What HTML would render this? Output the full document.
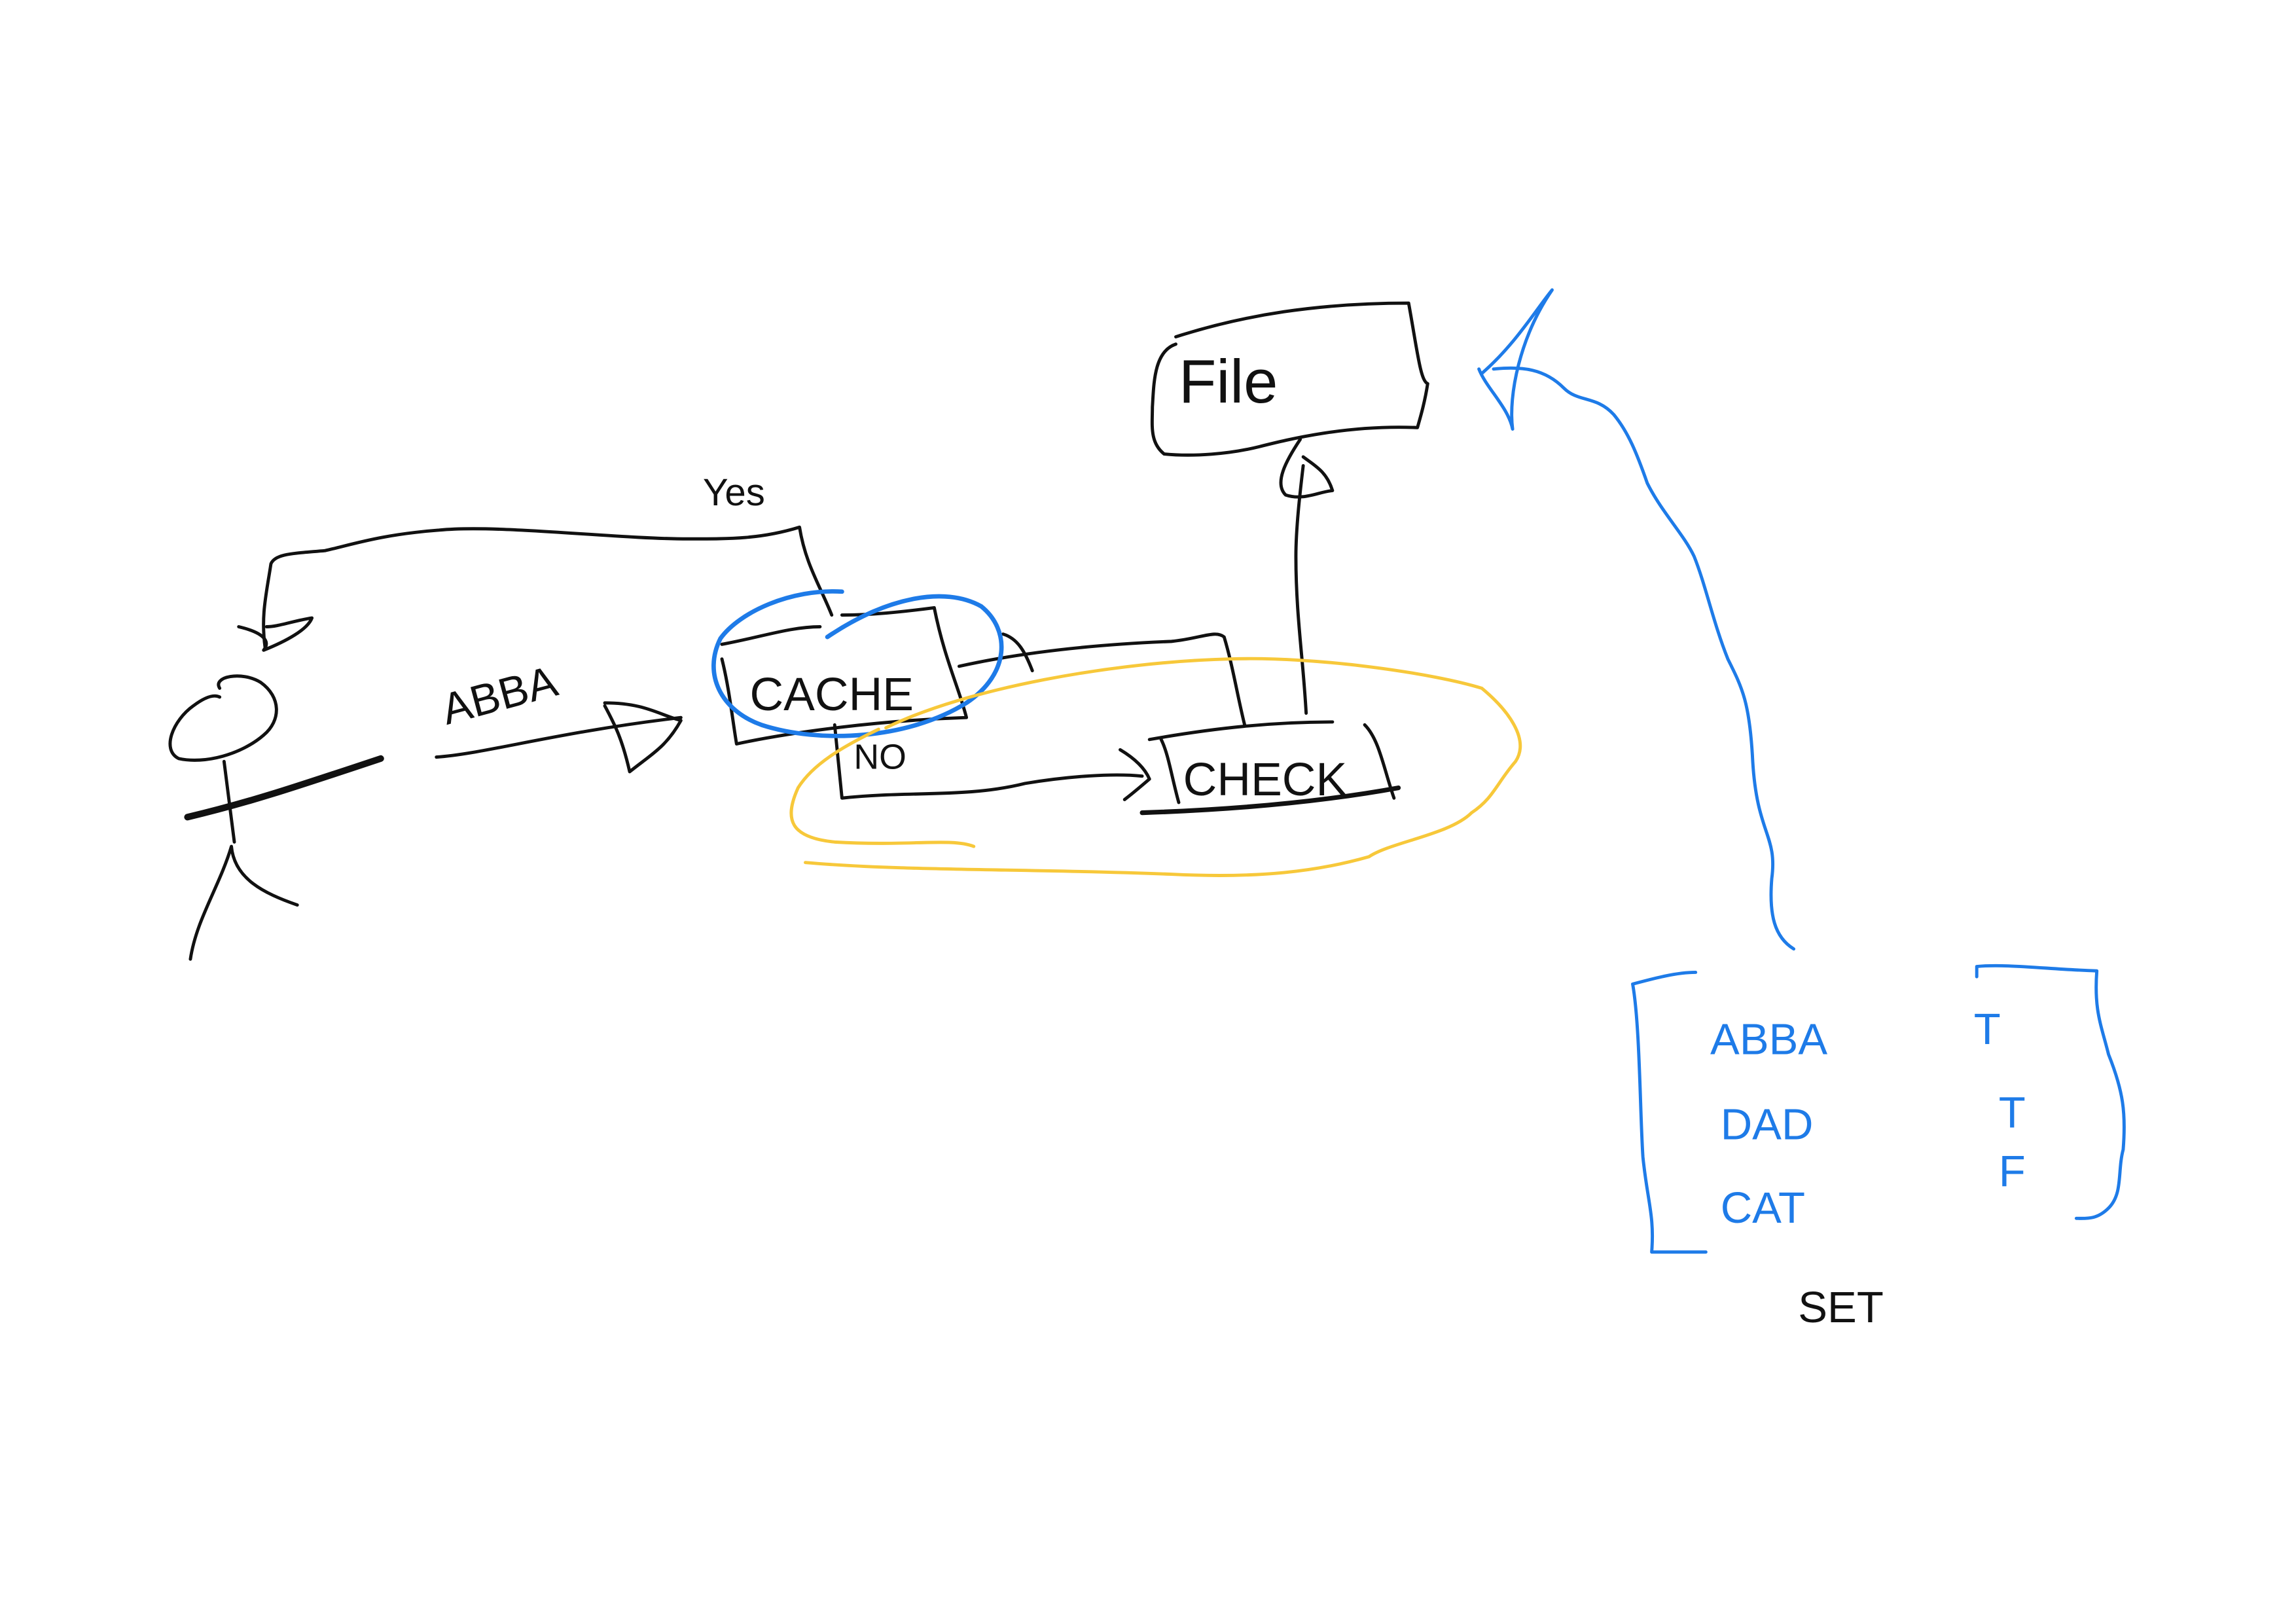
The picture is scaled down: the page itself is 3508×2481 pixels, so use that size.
<!DOCTYPE html>
<html><head><meta charset="utf-8">
<style>
html,body{margin:0;padding:0;background:#fff;}
svg{display:block;}
text{font-family:"Liberation Sans",sans-serif;font-weight:normal;}
</style></head>
<body>
<svg width="3508" height="2481" viewBox="0 0 1568 1109" xmlns="http://www.w3.org/2000/svg">
<rect width="1568" height="1109" fill="#fff"/>
<g fill="none" stroke="#111" stroke-width="2.2" stroke-linecap="round" stroke-linejoin="round">
  <!-- stick figure -->
  <path d="M150,470 C145,462 165,458 178,466 C192,476 192,492 180,502 C165,515 140,522 122,518 C110,512 118,492 132,482 C140,476 146,474 150,476"/>
  <path d="M153,520 L160,575"/>
  <path d="M128,558 C170,548 200,538 260,518" stroke-width="4.5"/>
  <path d="M130,655 C134,628 150,605 158,578 C160,600 180,610 203,618"/>
  <!-- ABBA arrow -->
  <path d="M298,517 C330,515 380,500 465,490"/>
  <path d="M413,480 C440,480 450,488 465,492 C455,510 445,515 430,527 C425,505 420,495 413,482"/>
  <!-- cache box -->
  <path d="M493,450 C498,470 500,490 503,508 C540,500 600,492 660,490 C655,470 645,450 638,415 C615,418 595,420 575,420"/>
  <path d="M493,440 C520,435 540,428 560,428"/>
  <!-- yes path -->
  <path d="M568,420 C560,400 550,385 546,360 C520,368 500,368 470,368 C420,368 340,358 300,362 C260,365 240,372 222,376 C200,378 188,378 185,385 C182,405 178,420 181,442"/>
  <path d="M163,428 C180,432 185,438 180,444 C195,438 210,430 213,422 C200,424 190,428 182,428"/>
  <!-- NO path -->
  <path d="M570,495 L575,545 C620,540 660,545 700,535 C730,530 760,528 780,530"/>
  <path d="M765,512 C775,518 782,525 785,532 C778,538 772,543 768,546"/>
  <!-- cache to check line -->
  <path d="M655,455 C700,445 750,440 800,438 C820,436 830,430 836,435 C842,455 845,475 850,495"/>
  <path d="M685,433 C695,436 700,445 705,458"/>
  <!-- check box -->
  <path d="M785,505 C830,497 870,493 910,493"/>
  <path d="M793,505 C798,515 800,530 805,548"/>
  <path d="M932,495 C942,505 945,525 952,545"/>
  <path d="M780,555 C840,553 900,548 955,538" stroke-width="3.2"/>
  <!-- check to file -->
  <path d="M892,487 C890,450 885,420 885,380 C885,360 888,335 890,318"/>
  <path d="M888,300 C878,315 870,330 878,338 C890,342 900,336 910,335 C906,322 898,318 890,312"/>
  <!-- file box -->
  <path d="M803,230 C850,215 900,207 962,207 C968,240 970,260 975,262 C973,275 970,285 968,292 C920,290 880,300 860,305 C840,310 815,312 795,310 C785,302 787,290 787,278 C788,262 788,240 803,235"/>
</g>
<!-- blue ellipse -->
<path d="M575,404 C540,402 505,418 492,436 C480,460 492,485 520,495 C560,508 620,505 660,480 C690,460 690,430 670,414 C645,400 605,408 565,435" fill="none" stroke="#1e7be8" stroke-width="3" stroke-linecap="round"/>
<!-- yellow loop -->
<path d="M605,497 C660,470 760,452 840,450 C900,448 980,460 1012,470 C1030,485 1045,505 1035,520 C1022,535 1020,545 1005,555 C990,570 950,575 935,585 C900,595 860,600 800,597 C700,593 620,595 550,589 M665,578 C650,572 620,578 570,575 C540,572 535,560 545,538 C555,522 575,510 600,498" fill="none" stroke="#f7c83a" stroke-width="2.2" stroke-linecap="round"/>
<!-- blue curve to file -->
<g fill="none" stroke="#1e7be8" stroke-width="2.2" stroke-linecap="round" stroke-linejoin="round">
  <path d="M1225,648 C1212,640 1208,625 1210,600 C1214,570 1200,570 1197,520 C1195,480 1190,470 1180,450 C1170,425 1165,400 1157,380 C1150,365 1135,350 1125,330 C1118,310 1112,295 1102,283 C1090,270 1078,275 1068,265 C1055,252 1040,250 1020,252"/>
  <path d="M1010,252 C1015,265 1030,278 1033,293 C1030,270 1038,230 1060,198 C1050,210 1035,235 1012,255"/>
  <!-- bracket box -->
  <path d="M1158,664 C1145,664 1130,668 1115,672 C1120,700 1120,760 1122,790 C1125,820 1130,830 1128,855 L1165,855"/>
  <path d="M1350,667 L1350,660 C1370,658 1400,662 1432,663 C1430,690 1435,700 1440,720 C1450,745 1452,760 1450,785 C1446,800 1450,815 1440,825 C1432,833 1425,832 1418,832"/>
</g>
<!-- labels -->
<g fill="#111" font-size="30">
  <text x="305" y="495" transform="rotate(-15 305 495)">ABBA</text>
  <text x="480" y="345" font-size="26">Yes</text>
  <text x="512" y="485" font-size="32">CACHE</text>
  <text x="583" y="525" font-size="24">NO</text>
  <text x="808" y="543" font-size="32">CHECK</text>
  <text x="805" y="275" font-size="42">File</text>
  <text x="1228" y="903" font-size="30">SET</text>
</g>
<g fill="#1e7be8" font-size="30">
  <text x="1168" y="720">ABBA</text>
  <text x="1175" y="778">DAD</text>
  <text x="1175" y="835">CAT</text>
  <text x="1348" y="713">T</text>
  <text x="1365" y="770">T</text>
  <text x="1365" y="810">F</text>
</g>
</svg>
</body></html>
